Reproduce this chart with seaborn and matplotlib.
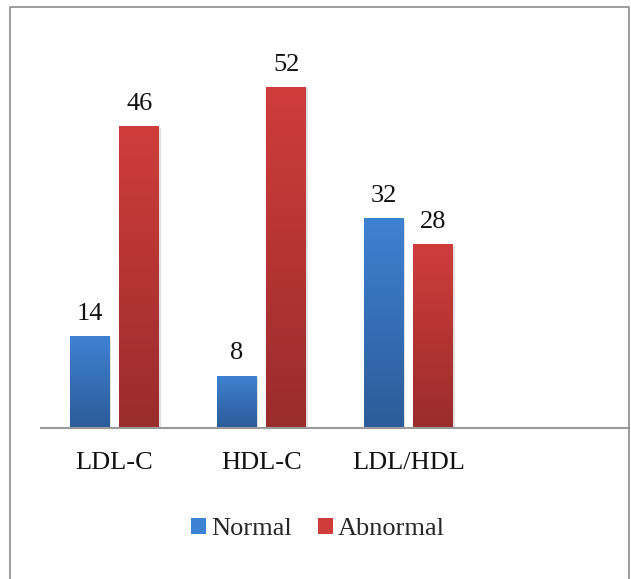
import numpy as np
import pandas as pd
import matplotlib
matplotlib.use("Agg")
import matplotlib.pyplot as plt
from matplotlib.colors import LinearSegmentedColormap
from matplotlib.patches import Patch, Rectangle
import seaborn as sns

# data
categories = ["LDL-C", "HDL-C", "LDL/HDL"]
normal = [14, 8, 32]
abnormal = [46, 52, 28]
groups = ["Normal", "Abnormal"]

# top / bottom colours of the Excel style gradient
blue_top, blue_bottom = "#3f81d2", "#2c5c99"
red_top, red_bottom = "#cf3d3b", "#9a2c2c"

df = pd.DataFrame({
    "test": categories * 2,
    "group": [groups[0]] * 3 + [groups[1]] * 3,
    "count": normal + abnormal,
})

sns.set_theme(style="white")
plt.rcParams["font.family"] = ["Liberation Serif", "DejaVu Serif"]

W, H = 631, 579
fig = plt.figure(figsize=(W / 100, H / 100), dpi=100)
ax_left, ax_right = 41 / W, 629 / W
ax_bottom = (H - 428) / H
ymax = 60
top_px = 428 - ymax * (341 / 52)
ax = fig.add_axes([ax_left, ax_bottom, ax_right - ax_left, (428 - top_px) / H])

sns.barplot(data=df, x="test", y="count", hue="group", order=categories,
            hue_order=groups, palette=[blue_bottom, red_bottom],
            width=0.68, gap=0.2, ax=ax, legend=False)

ax.set_xlim(-0.5, 3.5)
ax.set_ylim(0, ymax)

# swap flat fills for vertical gradients, one per bar
cmaps = {
    0: LinearSegmentedColormap.from_list("b", [blue_bottom, blue_top]),
    1: LinearSegmentedColormap.from_list("r", [red_bottom, red_top]),
}
grad = np.linspace(0, 1, 256).reshape(-1, 1)
bars = list(ax.patches)
for i, bar in enumerate(bars):
    hue_idx = i // len(categories)
    x0, y0 = bar.get_x(), bar.get_y()
    w, h = bar.get_width(), bar.get_height()
    # faint drop shadow
    sh = Rectangle((x0 + 0.012, y0), w, h - 0.2, facecolor="#000000",
                   alpha=0.12, edgecolor="none", zorder=1)
    ax.add_patch(sh)
    im = ax.imshow(grad, cmap=cmaps[hue_idx], origin="lower", aspect="auto",
                   extent=[x0, x0 + w, y0, y0 + h], zorder=2)
    im.set_clip_path(bar)
    bar.set_facecolor("none")
    bar.set_edgecolor("none")
    ax.annotate(f"{int(h)}", (x0 + w / 2, y0 + h), xytext=(0, 8),
                textcoords="offset points", ha="center", va="bottom",
                fontsize=19, color="#111111")

ax.set_xlim(-0.5, 3.5)
ax.set_ylim(0, ymax)
ax.set_xlabel("")
ax.set_ylabel("")
ax.set_yticks([])
ax.tick_params(axis="x", length=0, pad=17, labelsize=19, labelcolor="#111111")
for side in ["top", "left", "right"]:
    ax.spines[side].set_visible(False)
ax.spines["bottom"].set_color("#9a9a9a")
ax.spines["bottom"].set_linewidth(1.5)
ax.patch.set_alpha(0)

handles = [Patch(facecolor=blue_top, edgecolor="none"),
           Patch(facecolor=red_top, edgecolor="none")]
fig.legend(handles, groups, loc="center", bbox_to_anchor=(318 / W, 1 - 529 / H),
           ncol=2, frameon=False, fontsize=19, handlelength=0.55,
           handleheight=0.55, handletextpad=0.2, columnspacing=1.0)

# outer frame of the original figure
frame = plt.Line2D([10 / W, 10 / W, 629 / W, 629 / W],
                   [0, 1 - 7 / H, 1 - 7 / H, 0], transform=fig.transFigure,
                   color="#8c8c8c", linewidth=1.2)
fig.add_artist(frame)

fig.savefig("out.png", dpi=100)
